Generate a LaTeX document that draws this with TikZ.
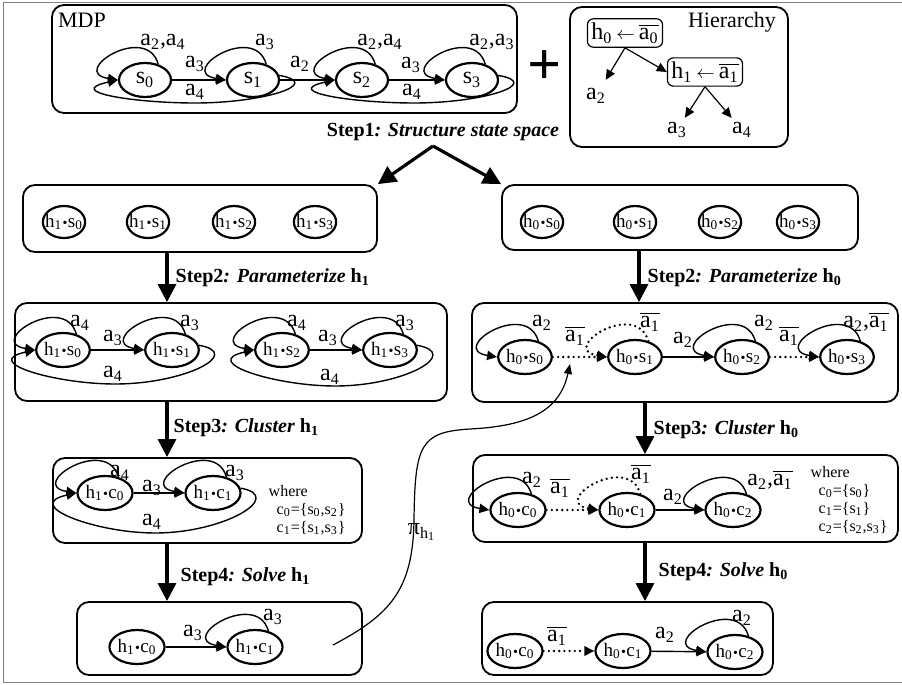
\documentclass[tikz,border=0pt]{standalone}
\usepackage{fontspec}
\setmainfont{Liberation Serif}
\usetikzlibrary{arrows.meta,shapes.geometric,fit}

\newcommand\ac[1]{a\textsubscript{#1}}
\newcommand\nac[1]{$\overline{\mbox{a\textsubscript{#1}}}$}
\newcommand\hx[3]{h\textsubscript{#1}\kern.2pt{\scriptsize\textbullet}\kern.2pt#2\textsubscript{#3}}
\newcommand\sloop[2][]{\draw[->,#1] (#2.50) .. controls +(-12,-42) and +(-50,-8) .. (#2.west);}
\newcommand\bedge[3]{\draw[->] (#1.10) .. controls +(45,8) and +(70,0) .. (#3) .. controls +(-60,0) and +(-55,12) .. (#2.west);}

\tikzset{
  box/.style={draw, rounded corners=6pt, line width=0.9pt, inner sep=0pt},
  mstate/.style={draw, ellipse, line width=1.1pt, inner sep=0pt, minimum width=26pt, minimum height=17pt, font=\fontsize{12}{12}\selectfont},
  state/.style={draw, ellipse, line width=1.1pt, inner sep=0pt, minimum width=24pt, minimum height=17pt, font=\fontsize{9.5}{9.5}\selectfont},
  pstate/.style={state, inner xsep=-2pt, minimum width=20pt, minimum height=16pt},
  lab/.style={font=\fontsize{12}{12}\selectfont, inner sep=0pt},
  steplab/.style={anchor=west, inner sep=0pt, font=\fontsize{10}{10}\selectfont\bfseries},
  stparrow/.style={-{Triangle[length=9pt,width=9pt]}, line width=1.6pt},
  dotedge/.style={line width=1.3pt, dash pattern=on 0pt off 2.6pt, line cap=round},
  note/.style={anchor=west, inner sep=0pt, align=left, font=\fontsize{8}{9}\selectfont},
}

\begin{document}
\begin{tikzpicture}[x=0.5pt, y=-0.5pt, line width=0.7pt, >={Triangle[length=5pt,width=4.6pt]}]

\useasboundingbox (0,0) rectangle (902,685);
\draw[line width=.4pt, gray] (902,2) -- (3,2) -- (3,682) -- (902,682);

%%%%%%%%%%%%%%%%%%%%%%%%
% boxes
%%%%%%%%%%%%%%%%%%%%%%%%

\node[box, fit={(52,5) (517,113)}] (mdp) {};
\node[box, fit={(570,7) (788,147)}] (hier) {};
\node[box, fit={(23,185) (377,252)}] (B1l) {};
\node[box, fit={(502,185) (858,250)}] (B1r) {};
\node[box, fit={(15,303) (447,401)}] (B2l) {};
\node[box, fit={(472,303) (898,402)}] (B2r) {};
\node[box, fit={(53,458) (362,543)}] (B3l) {};
\node[box, fit={(473,455) (898,542)}] (B3r) {};
\node[box, fit={(77,602) (362,675)}] (B4l) {};
\node[box, fit={(482,602) (773,675)}] (B4r) {};

%%%%%%%%%%%%%%%%%%%%%%%%
% MDP
%%%%%%%%%%%%%%%%%%%%%%%%

\node[font=\fontsize{11}{11}\selectfont] (mdpname) at (82,20) {MDP};

\node[mstate] (s0) at (145,80) {s\textsubscript{0}};
\node[mstate] (s1) at (253,80) {s\textsubscript{1}};
\node[mstate] (s2) at (362,80) {s\textsubscript{2}};
\node[mstate] (s3) at (472,80) {s\textsubscript{3}};

\draw[->] (s0) -- (s1);
\draw[->] (s1) -- (s2);
\draw[->] (s2) -- (s3);
\sloop{s0} \sloop{s1} \sloop{s2} \sloop{s3}
\bedge{s1}{s0}{195,103}
\bedge{s3}{s2}{414,103}

\node[lab] (m00) at (163,42) {\ac{2},\ac{4}};
\node[lab] (m01) at (195,64) {\ac{3}};
\node[lab] (m11) at (265,42) {\ac{3}};
\node[lab] (m12) at (300,64) {\ac{2}};
\node[lab] (m22) at (380,42) {\ac{2},\ac{4}};
\node[lab] (m23) at (411,65) {\ac{3}};
\node[lab] (m33) at (492,42) {\ac{2},\ac{3}};
\node[lab] (m10) at (195,92) {\ac{4}};
\node[lab] (m32) at (412,92) {\ac{4}};

%%%%%%%%%%%%%%%%%%%%%%%%
% Hierarchy
%%%%%%%%%%%%%%%%%%%%%%%%

\node[font=\fontsize{30}{30}\selectfont\bfseries] (plus) at (545,68) {+};
\node[font=\fontsize{11}{11}\selectfont] (hname) at (732,22) {Hierarchy};

\node[lab, draw, rounded corners=3pt, line width=.6pt, inner sep=2pt] (h0) at (625,33) {h\textsubscript{0}\,{\small$\leftarrow$}\,\nac{0}};
\node[lab, draw, rounded corners=3pt, line width=.6pt, inner sep=2pt] (h1) at (705,72) {h\textsubscript{1}\,{\small$\leftarrow$}\,\nac{1}};
\node[lab, inner sep=4pt] (ha2) at (596,96) {\ac{2}};
\node[lab, inner sep=2pt] (ha3) at (677,130) {\ac{3}};
\node[lab, inner sep=2pt] (ha4) at (742,130) {\ac{4}};

\draw[->, line width=.6pt] (h0.south) -- (ha2);
\draw[->, line width=.6pt] (h0.south) -- (h1.west);
\draw[->, line width=.6pt] (h1.south) -- (ha3);
\draw[->, line width=.6pt] (h1.south) -- (ha4);

%%%%%%%%%%%%%%%%%%%%%%%%
% steps
%%%%%%%%%%%%%%%%%%%%%%%%

\node[font=\fontsize{10}{10}\selectfont\bfseries] (st1) at (443,132) {Step1\textit{: Structure state space}};
\coordinate (apex) at (433,146);
\draw[stparrow] (apex) -- (B1l.north east);
\draw[stparrow] (apex) -- (B1r.north west);

\coordinate (xl) at (167,0);
\coordinate (xr) at (639,0);
\coordinate (xs) at (645,0);

\draw[stparrow] (B1l.south -| xl) -- (B2l.north -| xl);
\draw[stparrow] (B1r.south -| xr) -- (B2r.north -| xr);
\draw[stparrow] (B2l.south -| xl) -- (B3l.north -| xl);
\draw[stparrow] (B2r.south -| xs) -- (B3r.north -| xs);
\draw[stparrow] (B3l.south -| xl) -- (B4l.north -| xl);
\draw[stparrow] (B3r.south -| xs) -- (B4r.north -| xs);

\node[steplab] (st2l) at (175,278) {Step2\textit{: Parameterize} h\textsubscript{1}};
\node[steplab] (st2r) at (647,278) {Step2\textit{: Parameterize} h\textsubscript{0}};
\node[steplab] (st3l) at (173,428) {Step3\textit{: Cluster} h\textsubscript{1}};
\node[steplab] (st3r) at (653,430) {Step3\textit{: Cluster} h\textsubscript{0}};
\node[steplab] (st4l) at (180,577) {Step4\textit{: Solve} h\textsubscript{1}};
\node[steplab] (st4r) at (658,572) {Step4\textit{: Solve} h\textsubscript{0}};

%%%%%%%%%%%%%%%%%%%%%%%%
% structured state space
%%%%%%%%%%%%%%%%%%%%%%%%

\node[pstate] (h1s0) at (64,222) {\hx{1}{s}{0}};
\node[pstate] (h1s1) at (148,222) {\hx{1}{s}{1}};
\node[pstate] (h1s2) at (234,222) {\hx{1}{s}{2}};
\node[pstate] (h1s3) at (315,222) {\hx{1}{s}{3}};

\node[pstate] (h0s0) at (542,222) {\hx{0}{s}{0}};
\node[pstate] (h0s1) at (635,222) {\hx{0}{s}{1}};
\node[pstate] (h0s2) at (720,222) {\hx{0}{s}{2}};
\node[pstate] (h0s3) at (798,222) {\hx{0}{s}{3}};

%%%%%%%%%%%%%%%%%%%%%%%%
% parameterized h_1
%%%%%%%%%%%%%%%%%%%%%%%%

\node[state] (l0) at (63,350) {\hx{1}{s}{0}};
\node[state] (l1) at (172,350) {\hx{1}{s}{1}};
\node[state] (l2) at (282,350) {\hx{1}{s}{2}};
\node[state] (l3) at (390,350) {\hx{1}{s}{3}};

\draw[->] (l0) -- (l1);
\draw[->] (l2) -- (l3);
\sloop{l0} \sloop{l1} \sloop{l2} \sloop{l3}
\bedge{l1}{l0}{115,384}
\bedge{l3}{l2}{335,386}

\node[lab] (l00) at (80,323) {\ac{4}};
\node[lab] (l01) at (113,338) {\ac{3}};
\node[lab] (l11) at (190,323) {\ac{3}};
\node[lab] (l10) at (113,374) {\ac{4}};
\node[lab] (l22) at (297,323) {\ac{4}};
\node[lab] (l23) at (328,338) {\ac{3}};
\node[lab] (l33) at (405,323) {\ac{3}};
\node[lab] (l32) at (330,377) {\ac{4}};

%%%%%%%%%%%%%%%%%%%%%%%%
% parameterized h_0
%%%%%%%%%%%%%%%%%%%%%%%%

\node[state] (r0) at (525,357) {\hx{0}{s}{0}};
\node[state] (r1) at (635,357) {\hx{0}{s}{1}};
\node[state] (r2) at (742,357) {\hx{0}{s}{2}};
\node[state] (r3) at (847,357) {\hx{0}{s}{3}};

\draw[->,dotedge] (r0) -- (r1);
\draw[->] (r1) -- (r2);
\draw[->,dotedge] (r2) -- (r3);
\sloop{r0} \sloop[dotedge]{r1} \sloop{r2} \sloop{r3}

\node[lab] (r00) at (542,323) {\ac{2}};
\node[lab] (r01) at (575,336) {\nac{1}};
\node[lab] (r11) at (650,322) {\nac{1}};
\node[lab] (r12) at (683,340) {\ac{2}};
\node[lab] (r22) at (764,323) {\ac{2}};
\node[lab] (r23) at (789,336) {\nac{1}};
\node[lab] (r33) at (866,322) {\ac{2},\nac{1}};

%%%%%%%%%%%%%%%%%%%%%%%%
% clustered h_1
%%%%%%%%%%%%%%%%%%%%%%%%

\node[state] (lc0) at (105,493) {\hx{1}{c}{0}};
\node[state] (lc1) at (213,493) {\hx{1}{c}{1}};

\draw[->] (lc0) -- (lc1);
\sloop{lc0} \sloop{lc1}
\bedge{lc1}{lc0}{155,533}

\node[lab] (lc00) at (120,473) {\ac{4}};
\node[lab] (lc01) at (152,488) {\ac{3}};
\node[lab] (lc11) at (235,473) {\ac{3}};
\node[lab] (lc10) at (152,522) {\ac{4}};

\node[note] (wl) at (268,510) {where\\\hspace*{4pt}c\textsubscript{0}=\{s\textsubscript{0},s\textsubscript{2}\}\\\hspace*{4pt}c\textsubscript{1}=\{s\textsubscript{1},s\textsubscript{3}\}};

%%%%%%%%%%%%%%%%%%%%%%%%
% clustered h_0
%%%%%%%%%%%%%%%%%%%%%%%%

\node[state] (rc0) at (518,510) {\hx{0}{c}{0}};
\node[state] (rc1) at (627,510) {\hx{0}{c}{1}};
\node[state] (rc2) at (733,510) {\hx{0}{c}{2}};

\draw[->,dotedge] (rc0) -- (rc1);
\draw[->] (rc1) -- (rc2);
\sloop{rc0} \sloop[dotedge]{rc1} \sloop{rc2}

\node[lab] (rc00) at (532,480) {\ac{2}};
\node[lab] (rc01) at (560,488) {\nac{1}};
\node[lab] (rc11) at (641,474) {\nac{1}};
\node[lab] (rc12) at (673,497) {\ac{2}};
\node[lab] (rc22) at (770,480) {\ac{2},\nac{1}};

\node[note] (wr) at (810,500) {where\\\hspace*{4pt}c\textsubscript{0}=\{s\textsubscript{0}\}\\\hspace*{4pt}c\textsubscript{1}=\{s\textsubscript{1}\}\\\hspace*{4pt}c\textsubscript{2}=\{s\textsubscript{2},s\textsubscript{3}\}};

%%%%%%%%%%%%%%%%%%%%%%%%
% solved
%%%%%%%%%%%%%%%%%%%%%%%%

\node[state] (lf0) at (137,647) {\hx{1}{c}{0}};
\node[state] (lf1) at (255,647) {\hx{1}{c}{1}};

\draw[->] (lf0) -- (lf1);
\sloop{lf1}

\node[lab] (lf01) at (193,633) {\ac{3}};
\node[lab] (lf11) at (273,617) {\ac{3}};

\node[state] (rf0) at (515,651) {\hx{0}{c}{0}};
\node[state] (rf1) at (623,651) {\hx{0}{c}{1}};
\node[state] (rf2) at (735,652) {\hx{0}{c}{2}};

\draw[->,dotedge] (rf0) -- (rf1);
\draw[->] (rf1) -- (rf2);
\sloop{rf2}

\node[lab] (rf01) at (557,636) {\nac{1}};
\node[lab] (rf12) at (665,635) {\ac{2}};
\node[lab] (rf22) at (742,618) {\ac{2}};

%%%%%%%%%%%%%%%%%%%%%%%%
% policy of h_1
%%%%%%%%%%%%%%%%%%%%%%%%

\coordinate (pis) at (333,645);
\coordinate (pit) at (570,364);
\draw[->, line width=.6pt, >={Triangle[length=5pt,width=4pt]}] (pis) .. controls (390,615) and (413,590) .. (414,520) .. controls (415,445) and (420,432) .. (470,429) .. controls (530,426) and (560,410) .. (pit);
\node[lab] (pi) at (422,532) {π\textsubscript{h\textsubscript{1}}};

\end{tikzpicture}
\end{document}
